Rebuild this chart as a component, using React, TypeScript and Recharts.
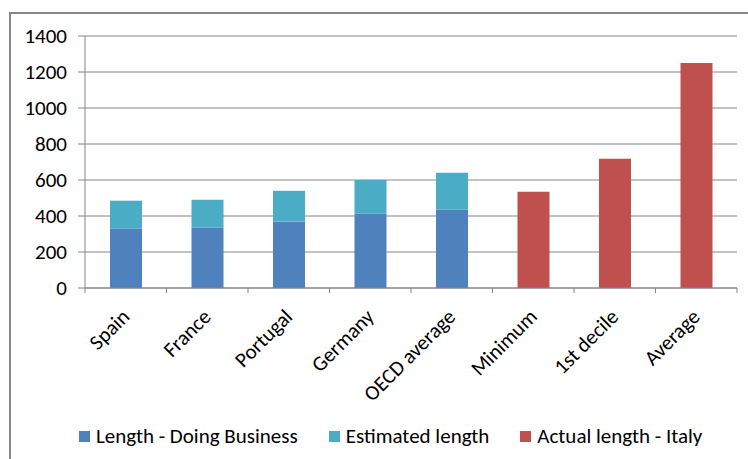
import React from "react";
import { BarChart, Bar, XAxis, YAxis, CartesianGrid, Legend } from "recharts";

const categories = [
  "Spain",
  "France",
  "Portugal",
  "Germany",
  "OECD average",
  "Minimum",
  "1st decile",
  "Average",
];
const doingBusinessLength = [330, 335, 370, 413, 435, null, null, null];
const estimatedLength = [155, 155, 170, 187, 205, null, null, null];
const italyActualLength = [null, null, null, null, null, 535, 718, 1250];
const yTicks = [0, 200, 400, 600, 800, 1000, 1200, 1400];
const seriesNames = ["Length - Doing Business", "Estimated length", "Actual length - Italy"];

const data = categories.map((name, i) => ({
  name,
  doing: doingBusinessLength[i],
  estimated: estimatedLength[i],
  italy: italyActualLength[i],
}));

const W = 748;
const H = 459;
const MARGIN = { top: 36, right: 11, bottom: 0, left: 0 };
const Y_AXIS_W = 85;
const PLOT_BOTTOM = 288;
const BAND = (W - MARGIN.left - MARGIN.right - Y_AXIS_W) / categories.length;

const FONT = "Carlito, 'Liberation Sans Narrow', 'Liberation Sans', sans-serif";
const FONT_SIZE = 21;
const GRID = "#868686";

function CategoryTick(props: any) {
  const { x, y, payload, index } = props;
  const left = x - BAND / 2;
  const tx = x + 5;
  const ty = y + 30;
  return (
    <g>
      <line x1={left} y1={y} x2={left} y2={y + 5} stroke={GRID} />
      {index === categories.length - 1 && (
        <line x1={x + BAND / 2} y1={y} x2={x + BAND / 2} y2={y + 5} stroke={GRID} />
      )}
      <text
        x={tx}
        y={ty}
        textAnchor="end"
        transform={`rotate(-45, ${tx}, ${ty})`}
        fontFamily={FONT}
        fontSize={FONT_SIZE}
        fill="#000"
      >
        {payload.value}
      </text>
    </g>
  );
}

function LegendRow(props: any) {
  // keep the legend in series order
  const items = [...props.payload].sort(
    (a: any, b: any) => seriesNames.indexOf(a.value) - seriesNames.indexOf(b.value)
  );
  return (
    <div style={{ display: "flex", alignItems: "center", fontFamily: FONT, fontSize: FONT_SIZE, color: "#000" }}>
      {items.map((item: any, i: number) => (
        <div key={i} style={{ display: "flex", alignItems: "center", marginRight: 31 }}>
          <span style={{ width: 11, height: 11, background: item.color, marginRight: 6, display: "inline-block" }} />
          <span style={{ lineHeight: "24px" }}>{item.value}</span>
        </div>
      ))}
    </div>
  );
}

export default function App() {
  return (
    <div style={{ position: "fixed", left: 0, top: 0, width: W, height: H, overflow: "hidden", background: "#fff" }}>
      <div
        style={{
          position: "absolute",
          left: 9,
          top: 12,
          width: W + 20,
          height: H + 20,
          borderLeft: `2px solid ${GRID}`,
          borderTop: `2px solid ${GRID}`,
        }}
      />
      <BarChart width={W} height={H} data={data} margin={MARGIN} barSize={32}>
        <CartesianGrid vertical={false} stroke={GRID} />
        <XAxis
          dataKey="name"
          axisLine={{ stroke: GRID }}
          tickLine={false}
          tickSize={0}
          tickMargin={0}
          height={H - PLOT_BOTTOM}
          interval={0}
          tick={<CategoryTick />}
        />
        <YAxis
          width={Y_AXIS_W}
          domain={[0, 1400]}
          ticks={yTicks}
          axisLine={{ stroke: GRID }}
          tickLine={{ stroke: GRID }}
          tickSize={7}
          tickMargin={11}
          tick={{ fontFamily: FONT, fontSize: FONT_SIZE, fill: "#000" }}
        />
        <Legend
          verticalAlign="middle"
          align="center"
          wrapperStyle={{ left: 79, top: 424, width: 660, height: 24 }}
          content={<LegendRow />}
        />
        <Bar dataKey="doing" name={seriesNames[0]} stackId="a" fill="#4F81BD" isAnimationActive={false} />
        <Bar dataKey="estimated" name={seriesNames[1]} stackId="a" fill="#4BACC6" isAnimationActive={false} />
        <Bar dataKey="italy" name={seriesNames[2]} stackId="a" fill="#C0504D" isAnimationActive={false} />
      </BarChart>
    </div>
  );
}
